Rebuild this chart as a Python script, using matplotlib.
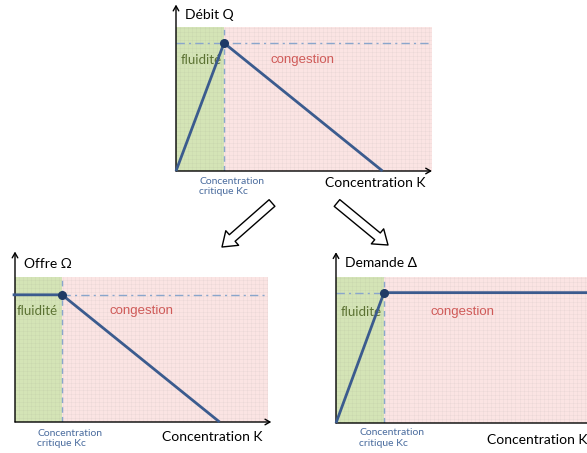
import matplotlib
matplotlib.use("Agg")
import matplotlib.pyplot as plt
from matplotlib.patches import FancyArrowPatch
import numpy as np

# ---- data (K in units of Kc, flow in units of Qmax) ----
Kc = 1.0
Qmax = 1.0
K_debit = [0.0, 1.0, 4.3]
Q_debit = [0.0, 1.0, 0.0]
K_offre = [-0.05, 1.0, 4.35]
Q_offre = [1.0, 1.0, 0.0]
K_demande = [0.0, 1.0, 5.4]
Q_demande = [0.0, 1.0, 1.0]
ylabels = ["Débit Q", "Offre Ω", "Demande Δ"]
xlabel = "Concentration K"
kc_label = "Concentration\ncritique Kc"
zone_labels = ["fluidité", "congestion"]

W, H = 587, 453
fig = plt.figure(figsize=(W / 100, H / 100), dpi=100)
fig.patch.set_facecolor("white")

FONT = ["Lato", "DejaVu Sans"]
GREEN = "#d4e4b6"
PINK = "#fbe4e3"
LINE = "#3b5b8e"
REF = "#8aa6cc"


def make_ax(left, right, top, bottom, xmax, ymax):
    ax = fig.add_axes([left / W, 1 - bottom / H, (right - left) / W, (bottom - top) / H])
    ax.set_xlim(0, xmax)
    ax.set_ylim(0, ymax)
    for s in ax.spines.values():
        s.set_visible(False)
    ax.set_axisbelow(True)
    ax.axvspan(0, Kc, color=GREEN, zorder=0.2, lw=0)
    ax.axvspan(Kc, xmax, color=PINK, zorder=0.2, lw=0)
    ax.set_xticks(np.arange(0, xmax, 0.085))
    ax.set_yticks(np.arange(0, ymax, 0.031))
    ax.tick_params(length=0, labelbottom=False, labelleft=False)
    ax.grid(True, color="#808080", alpha=0.07, lw=0.6)
    ax.set_facecolor("none")
    return ax


def decorate(ax, xmax, ymax, yarrow, xarrow, ylab, lab_xy, kc_xy, kx_xy, fl_xy, co_xy):
    ax.axvline(Kc, color=REF, ls=(0, (4, 3)), lw=1.0, zorder=1)
    ax.annotate("", xy=(0, yarrow), xytext=(0, 0), annotation_clip=False,
                arrowprops=dict(arrowstyle="->,head_length=0.35,head_width=0.2", color="black", lw=1.0,
                                shrinkA=0, shrinkB=0))
    ax.annotate("", xy=(xarrow, 0), xytext=(0, 0), annotation_clip=False,
                arrowprops=dict(arrowstyle="->,head_length=0.35,head_width=0.2", color="black", lw=1.0,
                                shrinkA=0, shrinkB=0))
    ax.text(*lab_xy, ylab, fontsize=10, family=FONT, ha="left", va="center", clip_on=False)
    ax.text(*kc_xy, kc_label, fontsize=7.5, family=FONT, color="#4a6c9e", ha="left", va="center",
            linespacing=1.15, clip_on=False)
    ax.text(*kx_xy, xlabel, fontsize=10, family=FONT, ha="left", va="center", clip_on=False)
    ax.text(*fl_xy, zone_labels[0], fontsize=9.5, family=FONT, color="#5b7232", ha="left", va="center",
            zorder=2)
    ax.text(*co_xy, zone_labels[1], fontsize=9.5, family=["Liberation Sans", "DejaVu Sans"],
            color="#cf5a58", ha="left", va="center", zorder=2)


# ---- top : Débit ----
ax1 = make_ax(176, 432, 27, 171, 5.33, 1.125)
ax1.axhline(Qmax, color=REF, ls=(0, (6, 3, 1.5, 3)), lw=1.0, zorder=1)
decorate(ax1, 5.33, 1.125, 1.30, 5.33, ylabels[0], (0.19, 1.22), (0.48, -0.12),
         (3.1, -0.094), (0.1, 0.87), (1.96, 0.87))
ax1.plot(K_debit, Q_debit, color=LINE, lw=2.0, zorder=3, clip_on=False, solid_capstyle="butt")
ax1.plot([Kc], [Qmax], "o", color="#1f3a66", ms=5.5, zorder=4, clip_on=False)

# ---- bottom left : Offre ----
ax2 = make_ax(15, 268, 277, 422, 5.38, 1.14)
ax2.plot([Kc, 5.38], [Qmax, Qmax], color=REF, ls=(0, (6, 3, 1.5, 3)), lw=1.0, zorder=1)
decorate(ax2, 5.38, 1.14, 1.34, 5.45, ylabels[1], (0.19, 1.24), (0.47, -0.126),
         (3.13, -0.118), (0.04, 0.87), (2.02, 0.87))
ax2.plot(K_offre, Q_offre, color=LINE, lw=2.0, zorder=3, clip_on=False, solid_capstyle="butt")
ax2.plot([Kc], [Qmax], "o", color="#1f3a66", ms=5.5, zorder=4, clip_on=False)

# ---- bottom right : Demande ----
ax3 = make_ax(336, 587, 277, 423, 5.23, 1.12)
ax3.plot([0, Kc], [Qmax, Qmax], color=REF, ls=(0, (6, 3, 1.5, 3)), lw=1.0, zorder=1)
decorate(ax3, 5.23, 1.12, 1.31, 5.5, ylabels[2], (0.19, 1.23), (0.48, -0.115),
         (3.15, -0.13), (0.1, 0.85), (1.96, 0.85))
ax3.plot(K_demande, Q_demande, color=LINE, lw=2.0, zorder=3, clip_on=False, solid_capstyle="butt")
ax3.plot([Kc], [Qmax], "o", color="#1f3a66", ms=5.5, zorder=4, clip_on=False)

# ---- outline arrows between the diagrams ----
for (x0, y0), (x1, y1) in [((272, 203), (222, 247)), ((337, 203), (388, 245))]:
    arr = FancyArrowPatch((x0 / W, 1 - y0 / H), (x1 / W, 1 - y1 / H), transform=fig.transFigure,
                          arrowstyle="simple,head_length=0.7,head_width=1.0,tail_width=0.45",
                          mutation_scale=14, facecolor="white", edgecolor="black", lw=1.0,
                          shrinkA=0, shrinkB=0)
    fig.add_artist(arr)

fig.savefig("out.png", dpi=100, facecolor="white")
